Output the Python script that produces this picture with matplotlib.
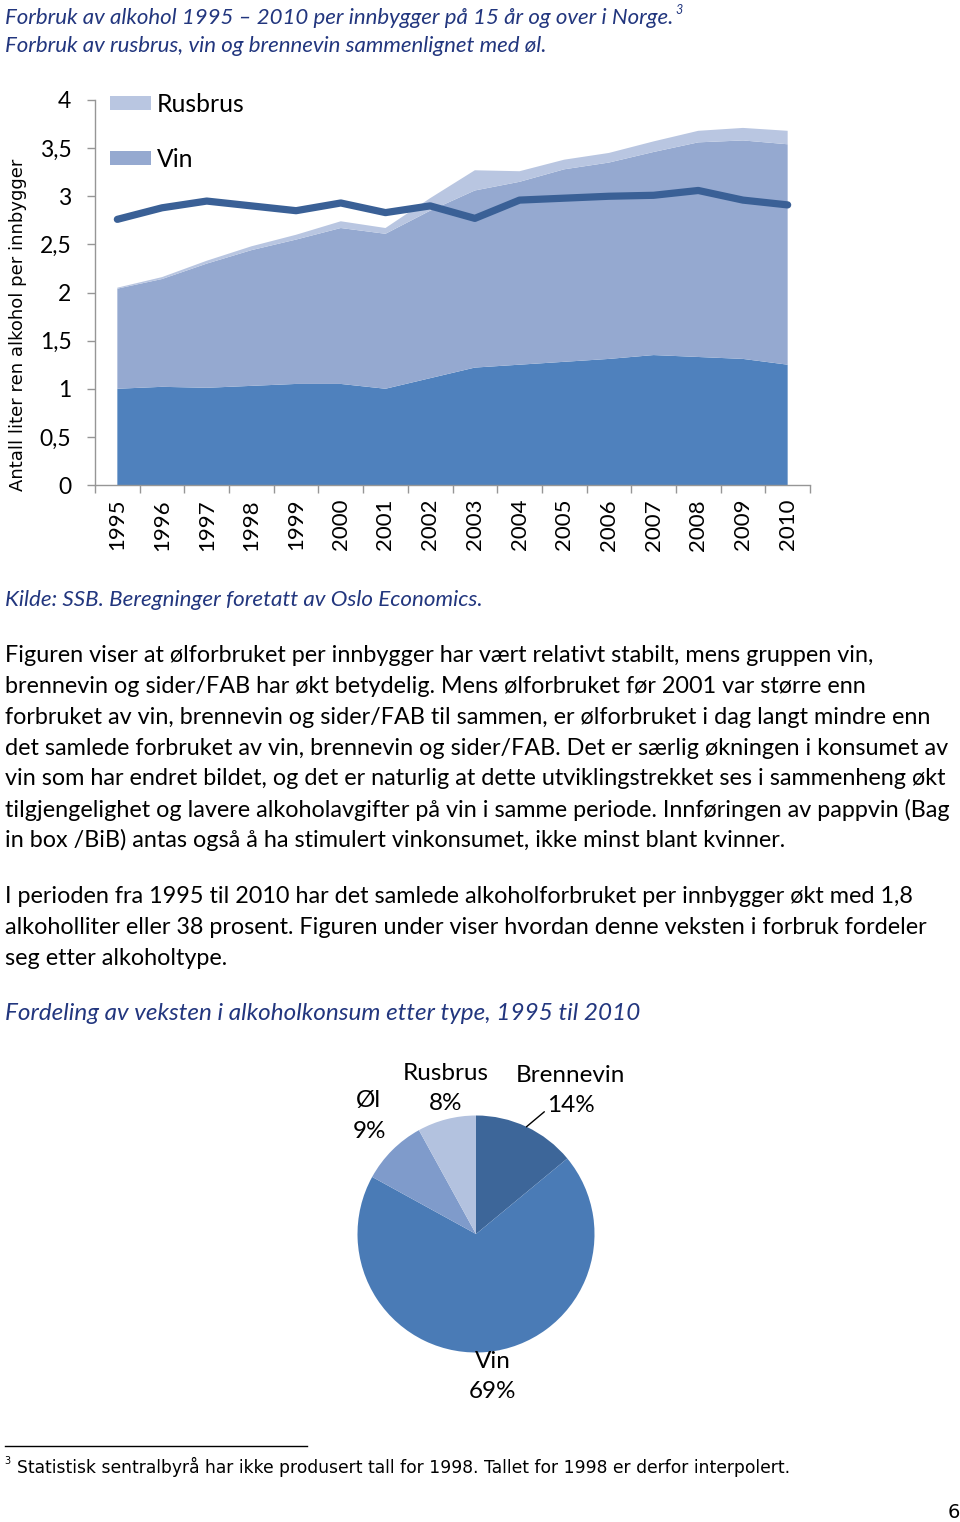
import numpy as np
import matplotlib
matplotlib.use('Agg')
import matplotlib.pyplot as plt

# data (liter ren alkohol per innbygger)
years = [1995, 1996, 1997, 1998, 1999, 2000, 2001, 2002,
         2003, 2004, 2005, 2006, 2007, 2008, 2009, 2010]
brennevin = [1.00, 1.02, 1.01, 1.03, 1.05, 1.05, 1.00, 1.11,
             1.22, 1.25, 1.28, 1.31, 1.35, 1.33, 1.31, 1.25]
vin = [1.04, 1.12, 1.29, 1.41, 1.50, 1.62, 1.61, 1.74,
       1.84, 1.90, 2.00, 2.04, 2.11, 2.23, 2.27, 2.29]
rusbrus = [0.01, 0.02, 0.03, 0.04, 0.05, 0.07, 0.06, 0.13,
           0.21, 0.11, 0.10, 0.10, 0.11, 0.12, 0.13, 0.14]
ol = [2.76, 2.88, 2.95, 2.90, 2.85, 2.93, 2.83, 2.90,
      2.77, 2.96, 2.98, 3.00, 3.01, 3.06, 2.96, 2.91]
yticks = [0, 0.5, 1, 1.5, 2, 2.5, 3, 3.5, 4]
ytick_labels = ['0', '0,5', '1', '1,5', '2', '2,5', '3', '3,5', '4']

# growth split 1995-2010 (pie)
pie_names = ['Brennevin', 'Vin', 'Øl', 'Rusbrus']
pie_shares = [14, 69, 9, 8]

W, H = 960, 1522
fig = plt.figure(figsize=(W / 100, H / 100), dpi=100)


def fx(x):
    return x / W


def fy(y):
    return 1 - y / H


title_col = '#22367e'
body_font = 'Lato'
body_size = 16.8

# caption above chart
fig.text(fx(5), fy(18), 'Forbruk av alkohol 1995 \u2013 2010 per innbygger på 15 år og over i Norge.',
         family=body_font, style='italic', size=16, color=title_col, va='center')
fig.text(fx(675), fy(10), '3', family=body_font, style='italic', size=9, color=title_col, va='center')
fig.text(fx(5), fy(46), 'Forbruk av rusbrus, vin og brennevin sammenlignet med øl.',
         family=body_font, style='italic', size=16, color=title_col, va='center')

# area chart
ax = fig.add_axes([fx(95), fy(485), fx(810) - fx(95), (485 - 100) / H])
x = np.arange(len(years))
polys = ax.stackplot(x, brennevin, vin, rusbrus,
                     colors=['#4f81bd', '#95a9d0', '#b9c6e1'],
                     labels=['Brennevin', 'Vin', 'Rusbrus'], linewidth=0)
ax.plot(x, ol, color='#3a6096', lw=5.2, solid_capstyle='round', solid_joinstyle='round')

ax.set_xlim(-0.5, len(years) - 0.5)
ax.set_ylim(0, 4)
ax.set_yticks(yticks)
ax.set_yticklabels(ytick_labels, family=body_font, size=16.5)
ax.set_xticks(np.arange(-0.5, len(years), 1))
ax.set_xticklabels([])
ax.set_xticks(x, minor=True)
ax.set_xticklabels([str(y) for y in years], minor=True, rotation=90,
                   family=body_font, size=16)
ax.tick_params(axis='x', which='minor', length=0, pad=10)
ax.tick_params(axis='x', which='major', length=6, color='#969696', width=1)
ax.tick_params(axis='y', length=6, color='#969696', width=1, pad=11)
for s in ['top', 'right']:
    ax.spines[s].set_visible(False)
for s in ['left', 'bottom']:
    ax.spines[s].set_color('#969696')
    ax.spines[s].set_linewidth(1)

ax.legend([polys[2], polys[1]], ['Rusbrus', 'Vin'], loc='upper left',
          bbox_to_anchor=(fx(110), fy(93)), bbox_transform=fig.transFigure,
          frameon=False, prop={'family': body_font, 'size': 17.8},
          handlelength=1.65, handleheight=0.5, handletextpad=0.25, labelspacing=1.3,
          borderaxespad=0, borderpad=0)

fig.text(fx(18), fy(325), 'Antall liter ren alkohol per innbygger', family='DejaVu Sans',
         size=13, rotation=90, ha='center', va='center')

fig.text(fx(5), fy(600), 'Kilde: SSB. Beregninger foretatt av Oslo Economics.',
         family=body_font, style='italic', size=16.1, color=title_col, va='center')

# body text
para1 = [
    'Figuren viser at ølforbruket per innbygger har vært relativt stabilt, mens gruppen vin,',
    'brennevin og sider/FAB har økt betydelig. Mens ølforbruket før 2001 var større enn',
    'forbruket av vin, brennevin og sider/FAB til sammen, er ølforbruket i dag langt mindre enn',
    'det samlede forbruket av vin, brennevin og sider/FAB. Det er særlig økningen i konsumet av',
    'vin som har endret bildet, og det er naturlig at dette utviklingstrekket ses i sammenheng økt',
    'tilgjengelighet og lavere alkoholavgifter på vin i samme periode. Innføringen av pappvin (Bag',
    'in box /BiB) antas også å ha stimulert vinkonsumet, ikke minst blant kvinner.',
]
para2 = [
    'I perioden fra 1995 til 2010 har det samlede alkoholforbruket per innbygger økt med 1,8',
    'alkoholliter eller 38 prosent. Figuren under viser hvordan denne veksten i forbruk fordeler',
    'seg etter alkoholtype.',
]
for i, line in enumerate(para1):
    fig.text(fx(5), fy(656 + i * 30.7), line, family=body_font, size=body_size, va='center')
for i, line in enumerate(para2):
    fig.text(fx(5), fy(897 + i * 30.7), line, family=body_font, size=body_size, va='center')

fig.text(fx(5), fy(1014), 'Fordeling av veksten i alkoholkonsum etter type, 1995 til 2010',
         family=body_font, style='italic', size=17.5, color=title_col, va='center')

# pie chart
r = 118.5
pax = fig.add_axes([fx(476 - r), fy(1234 + r), 2 * r / W, 2 * r / H])
pax.pie(pie_shares, startangle=90, counterclock=False,
        colors=['#3d6699', '#4a7bb6', '#7f9bcb', '#b3c2df'],
        wedgeprops={'linewidth': 0})
pax.set_xlim(-1, 1)
pax.set_ylim(-1, 1)
pax.set_aspect('equal')
pax.axis('off')

lab = dict(family=body_font, size=17.5, ha='center', va='center')
fig.text(fx(446), fy(1073), pie_names[3], **lab)
fig.text(fx(446), fy(1103), f'{pie_shares[3]}%', **lab)
fig.text(fx(570), fy(1076), pie_names[0], **lab)
fig.text(fx(368), fy(1101), pie_names[2], **lab)
fig.text(fx(369), fy(1131), f'{pie_shares[2]}%', **lab)
fig.text(fx(493), fy(1362), pie_names[1], **lab)
fig.text(fx(493), fy(1391), f'{pie_shares[1]}%', **lab)
# Brennevin label with leader line from wedge edge
mid = np.deg2rad(90 - pie_shares[0] / 100 * 360 / 2)
pax.annotate(f'{pie_shares[0]}%', xy=(np.cos(mid), np.sin(mid)),
             xytext=(fx(571), fy(1105)), textcoords='figure fraction',
             ha='center', va='center', family=body_font, size=17.5,
             arrowprops=dict(arrowstyle='-', color='black', lw=1,
                             shrinkA=0, shrinkB=0, relpos=(0, 0.5),
                             connectionstyle='angle,angleA=180,angleB=40,rad=0'),
             annotation_clip=False)

# footnote
fig.add_artist(plt.Line2D([fx(5), fx(307)], [fy(1446), fy(1446)], color='black', lw=1))
fig.text(fx(4), fy(1461), '3', family='DejaVu Sans', size=7, va='center')
fig.text(fx(17), fy(1467), 'Statistisk sentralbyrå har ikke produsert tall for 1998. Tallet for 1998 er derfor interpolert.',
         family='DejaVu Sans', size=12.3, va='center')
fig.text(fx(960), fy(1512), '6', family='DejaVu Sans', size=14, ha='right', va='center')

fig.savefig('out.png', dpi=100)
